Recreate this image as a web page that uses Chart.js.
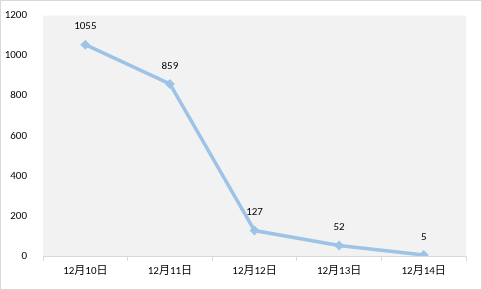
<!DOCTYPE html>
<html>
<head>
<meta charset="utf-8">
<script src="https://cdn.jsdelivr.net/npm/chart.js@4"></script>
<style>
  html, body { margin: 0; padding: 0; background: #fff; }
  #wrap { width: 480px; height: 288px; border: 1px solid #d9d9d9; }
</style>
</head>
<body>
<div id="wrap"><canvas id="chart" width="480" height="288"></canvas></div>
<script>
// données
const categories = ["12月10日", "12月11日", "12月12日", "12月13日", "12月14日"];
const values = [1055, 859, 127, 52, 5];
const yTicks = [0, 200, 400, 600, 800, 1000, 1200];

const fontFamily = "Calibri, Carlito, 'Liberation Sans', 'Noto Sans CJK SC', sans-serif";

// fond gris de la zone de tracé
const plotBg = {
  id: 'plotBg',
  beforeDraw(chart) {
    const a = chart.chartArea, ctx = chart.ctx;
    ctx.save();
    ctx.fillStyle = '#f2f2f2';
    ctx.fillRect(a.left, a.top, a.right - a.left, a.bottom - a.top);
    ctx.restore();
  }
};

// étiquettes de valeurs au-dessus des points
const valueLabels = {
  id: 'valueLabels',
  afterDatasetsDraw(chart) {
    const ctx = chart.ctx;
    const meta = chart.getDatasetMeta(0);
    ctx.save();
    ctx.font = "11px " + fontFamily;
    ctx.fillStyle = '#000';
    ctx.textAlign = 'center';
    ctx.textBaseline = 'middle';
    meta.data.forEach((pt, i) => {
      ctx.fillText(String(values[i]), pt.x, pt.y - 18);
    });
    ctx.restore();
  }
};

new Chart(document.getElementById('chart'), {
  type: 'line',
  data: {
    labels: categories,
    datasets: [{
      data: values,
      borderColor: '#9dc3e6',
      backgroundColor: '#9dc3e6',
      borderWidth: 3.5,
      pointStyle: 'rectRot',
      pointRadius: 5,
      pointBorderWidth: 0,
      tension: 0
    }]
  },
  options: {
    responsive: false,
    animation: false,
    layout: { padding: { top: 14, right: 15, left: 0, bottom: 0 } },
    plugins: { legend: { display: false }, tooltip: { enabled: false } },
    scales: {
      x: {
        offset: true,
        grid: { display: true, drawOnChartArea: false, drawTicks: true, tickLength: 5, color: '#d9d9d9', offset: true },
        border: { display: true, color: '#d9d9d9' },
        ticks: { color: '#000', font: { size: 11, family: fontFamily }, padding: 4, maxRotation: 0 },
        afterFit(scale) { scale.height = 33; }
      },
      y: {
        min: 0, max: 1200,
        afterBuildTicks(scale) { scale.ticks = yTicks.map(v => ({ value: v })); },
        grid: { display: false },
        border: { display: false },
        ticks: { color: '#000', font: { size: 11, family: fontFamily }, padding: 8, callback: v => String(v) },
        afterFit(scale) { scale.width = 42; }
      }
    }
  },
  plugins: [plotBg, valueLabels]
});
</script>
</body>
</html>
